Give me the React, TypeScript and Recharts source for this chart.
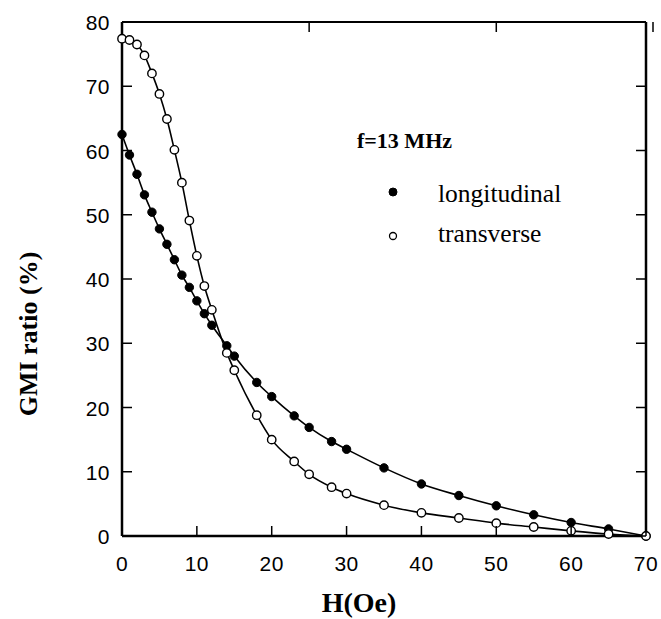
import React from 'react';
import { ComposedChart, Line, XAxis, YAxis, Legend } from 'recharts';

const fieldH = [0, 1, 2, 3, 4, 5, 6, 7, 8, 9, 10, 11, 12, 14, 15, 18, 20, 23, 25, 28, 30, 35, 40, 45, 50, 55, 60, 65, 70];
const longitudinal = [62.5, 59.3, 56.3, 53.1, 50.4, 47.8, 45.4, 43.0, 40.6, 38.7, 36.6, 34.6, 32.8, 29.6, 28.0, 23.9, 21.7, 18.7, 16.9, 14.7, 13.5, 10.6, 8.1, 6.3, 4.7, 3.3, 2.1, 1.1, 0];
const transverse = [77.4, 77.2, 76.5, 74.8, 72.0, 68.8, 64.9, 60.1, 55.0, 49.1, 43.6, 38.9, 35.2, 28.5, 25.8, 18.8, 15.0, 11.6, 9.6, 7.6, 6.6, 4.8, 3.6, 2.8, 2.0, 1.4, 0.8, 0.3, 0];
const xTicks = [0, 10, 20, 30, 40, 50, 60, 70];
const yTicks = [0, 10, 20, 30, 40, 50, 60, 70, 80];

const data = fieldH.map((h, i) => ({ h, long: longitudinal[i], trans: transverse[i] }));

const SANS = '"Liberation Sans", Arial, sans-serif';
const SERIF = '"Liberation Serif", "Times New Roman", serif';

const BottomTick = (props: any) => {
  const { x, y, payload } = props;
  return (
    <g>
      <line x1={x} x2={x} y1={y} y2={y - 10} stroke="#000" strokeWidth={1.5} />
      <text x={x} y={y + 35} textAnchor="middle" fontFamily={SANS} fontSize={21} letterSpacing={0.5} fill="#000">
        {payload.value}
      </text>
    </g>
  );
};

const LeftTick = (props: any) => {
  const { x, y, payload } = props;
  return (
    <g>
      <line x1={x} x2={x + 10} y1={y} y2={y} stroke="#000" strokeWidth={1.5} />
      <text x={x - 12} y={y + 8} textAnchor="end" fontFamily={SANS} fontSize={21} letterSpacing={0.5} fill="#000">
        {payload.value}
      </text>
    </g>
  );
};

const TopTick = (props: any) => {
  const { x, y } = props;
  return <line x1={x} x2={x} y1={y} y2={y + 10} stroke="#000" strokeWidth={1.5} />;
};

const RightTick = (props: any) => {
  const { x, y } = props;
  return <line x1={x} x2={x - 10} y1={y} y2={y} stroke="#000" strokeWidth={1.5} />;
};

const LegendBox = () => (
  <svg width={240} height={140} style={{ display: 'block' }}>
    <text x={17} y={28} fontFamily={SERIF} fontWeight="bold" fontSize={22} fill="#000">
      f=13 MHz
    </text>
    <circle cx={53} cy={72} r={4} fill="#000" stroke="#000" strokeWidth={1} />
    <text x={98} y={82} fontFamily={SERIF} fontSize={25.5} fill="#000">
      longitudinal
    </text>
    <circle cx={53} cy={116} r={3.5} fill="#fff" stroke="#000" strokeWidth={1.3} />
    <text x={98} y={122} fontFamily={SERIF} fontSize={25.5} fill="#000">
      transverse
    </text>
  </svg>
);

const YLabel = () => (
  <text
    x={37}
    y={334}
    transform="rotate(-90 37 334)"
    textAnchor="middle"
    fontFamily={SERIF}
    fontWeight="bold"
    fontSize={26}
    fill="#000"
  >
    GMI ratio (%)
  </text>
);

const XLabel = (props: any) => {
  const vb = props.viewBox || { x: 0, y: 0, width: 0, height: 0 };
  const cx = vb.x + vb.width / 2 - 25;
  return (
    <text x={cx} y={vb.y + 76} textAnchor="middle" fontFamily={SERIF} fontWeight="bold" fontSize={28} fill="#000">
      H(Oe)
    </text>
  );
};

export default function App() {
  return (
    <div style={{ position: 'absolute', left: 0, top: 0, background: '#fff' }}>
      <ComposedChart
        width={661}
        height={619}
        data={data}
        margin={{ top: 21, right: 14, bottom: 82, left: 121 }}
      >
        <XAxis
          xAxisId="bottom"
          dataKey="h"
          type="number"
          domain={[0, 70]}
          ticks={xTicks}
          height={1}
          tickSize={0}
          tickMargin={0}
          tickLine={false}
          tick={<BottomTick />}
          axisLine={{ stroke: '#000', strokeWidth: 2.5 }}
          label={{ content: (p: any) => <XLabel {...p} /> }}
        />
        <XAxis
          xAxisId="top"
          orientation="top"
          type="number"
          domain={[0, 70]}
          allowDataOverflow
          ticks={xTicks}
          height={1}
          tickSize={0}
          tickMargin={0}
          tickLine={false}
          tick={<TopTick />}
          axisLine={{ stroke: '#000', strokeWidth: 2 }}
        />
        <YAxis
          yAxisId="left"
          type="number"
          domain={[0, 80]}
          ticks={yTicks}
          width={1}
          tickSize={0}
          tickMargin={0}
          tickLine={false}
          tick={<LeftTick />}
          axisLine={{ stroke: '#000', strokeWidth: 2.5 }}
          label={{ content: () => <YLabel /> }}
        />
        <YAxis
          yAxisId="right"
          orientation="right"
          type="number"
          domain={[0, 80]}
          allowDataOverflow
          ticks={yTicks}
          width={1}
          tickSize={0}
          tickMargin={0}
          tickLine={false}
          tick={<RightTick />}
          axisLine={{ stroke: '#000', strokeWidth: 2.5 }}
        />
        <Legend
          layout="horizontal"
          verticalAlign="middle"
          align="center"
          wrapperStyle={{ left: 340, top: 120, width: 240, height: 140 }}
          content={() => <LegendBox />}
        />
        <Line
          xAxisId="bottom"
          yAxisId="left"
          dataKey="long"
          name="longitudinal"
          type="monotone"
          stroke="#000"
          strokeWidth={1.6}
          dot={{ r: 4.2, fill: '#000', stroke: '#000', strokeWidth: 1 }}
          activeDot={false}
          isAnimationActive={false}
        />
        <Line
          xAxisId="bottom"
          yAxisId="left"
          dataKey="trans"
          name="transverse"
          type="monotone"
          stroke="#000"
          strokeWidth={1.6}
          dot={{ r: 4.2, fill: '#fff', stroke: '#000', strokeWidth: 1.4 }}
          activeDot={false}
          isAnimationActive={false}
        />
      </ComposedChart>
    </div>
  );
}
